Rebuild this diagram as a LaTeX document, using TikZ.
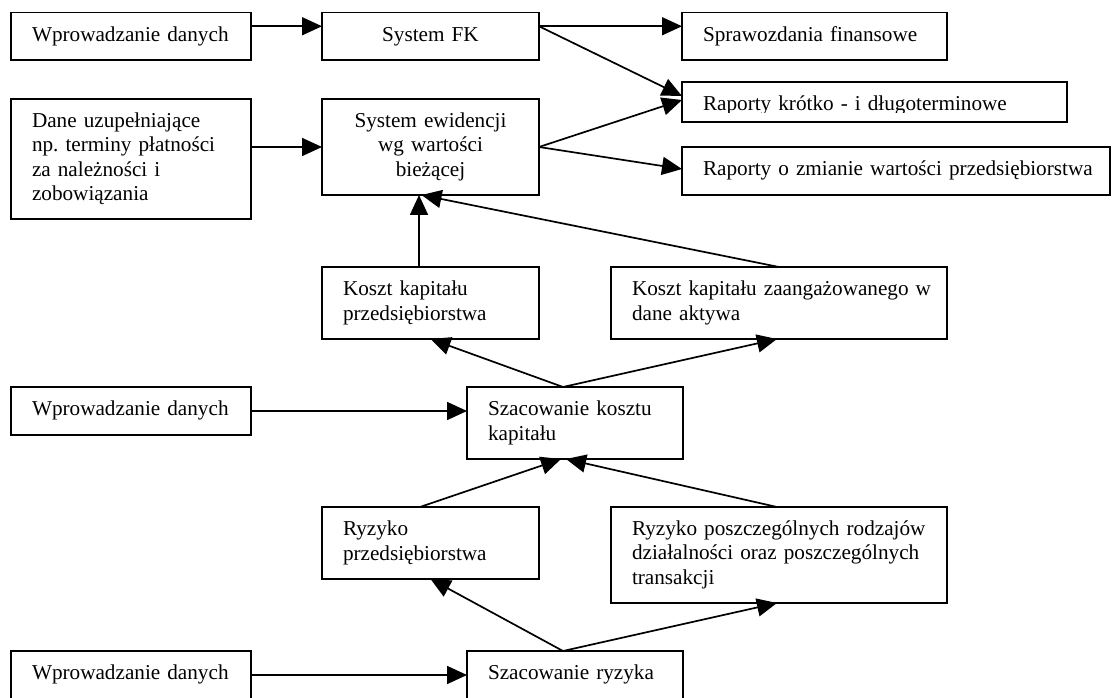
\documentclass[tikz,border=0pt]{standalone}
\usepackage{fontspec}
\setmainfont{Liberation Serif}
\usetikzlibrary{arrows.meta,positioning}

\tikzset{
  every node/.style={font=\fontsize{21.2}{24.5}\selectfont,
    execute at begin node=\strut, execute at end node=\strut},
  box/.code 2 args={\pgfmathsetmacro\boxtw{#1-42}%
    \tikzset{draw, line width=1.8pt, inner xsep=0pt, inner ysep=0pt, outer sep=0pt,
      minimum width=#1pt, minimum height=#2pt, text width/.expanded=\boxtw pt, align=left}},
  link/.style={line width=1.7pt, -{Triangle[length=20pt,width=18pt]}},
}
\frenchspacing
\hyphenpenalty=10000
\exhyphenpenalty=10000

\begin{document}
\begin{tikzpicture}[x=1pt,y=-1pt]
        \useasboundingbox (0,0) rectangle (1112,698);
        \clip (0,0) rectangle (1112,698);

        % First column: data entry
        \node[box={240}{47.5}] (wd1) at (131,36.25) {Wprowadzanie danych};
        \node[box={240}{120}] (dane) at (131,159) {Dane uzupełniające\\np. terminy płatności\\za należności i\\zobowiązania};
        \node[box={240}{48}] (wd2) at (131,411) {Wprowadzanie danych};
        \node[box={240}{48}] (wd3) at (131,675) {Wprowadzanie danych};

        % Systems and costs
        \node[box={217}{47.5}, align=center] (fk) at (430.5,36.25) {System FK};
        \node[box={217}{96}, align=center] (sew) at (430.5,147) {System ewidencji\\wg wartości\\bieżącej};
        \node[box={217}{72}] (kkp) at (430.5,303) {Koszt kapitału\\przedsiębiorstwa};
        \node[box={336}{72}] (kkz) at (779,303) {Koszt~kapitału~zaangażowanego~w\\dane aktywa};
        \node[box={216}{72}] (szk) at (575,423) {Szacowanie kosztu\\kapitału};
        \node[box={217}{72}] (rp) at (430.5,543) {Ryzyko\\przedsiębiorstwa};
        \node[box={336}{96}] (rpr) at (779,555) {Ryzyko~poszczególnych~rodzajów\\działalności~oraz~poszczególnych\\transakcji};
        \node[box={216}{48}] (szr) at (575,675) {Szacowanie ryzyka};

        % Reports
        \node[box={265}{47.5}] (spr) at (814.5,36.25) {Sprawozdania~finansowe};
        \begin{scope}
          \clip (660,70) rectangle (1090,112.5);
          \node[box={385}{40}, text height=21pt, text depth=3pt] (rkd) at (874.5,102) {Raporty~krótko~-~i~długoterminowe};
        \end{scope}
        \draw[line width=1.8pt] (rkd.north west) rectangle (rkd.south east);
        \node[box={428}{48}] (rzw) at (896,171) {Raporty~o~zmianie~wartości~przedsiębiorstwa};

        % Connectors
        \draw[link] ([yshift=10pt]wd1.east) -- ([yshift=10pt]fk.west);
        \draw[link] ([yshift=10pt]fk.east) -- ([yshift=10pt]spr.west);
        \draw[link] ([yshift=10pt]fk.east) -- ([yshift=6pt]rkd.west);
        \draw[link] (dane.east |- sew.west) -- (sew.west);
        \draw[link] (sew.east) -- ([yshift=2pt]rkd.west);
        \draw[link] (sew.east) -- ([yshift=2pt]rzw.west);
        \draw[link] ([xshift=-11.5pt]kkp.north) -- ([xshift=-11.5pt]sew.south);
        \draw[link] (kkz.north) -- ([xshift=-9pt]sew.south);
        \draw[link] ([xshift=-12pt]szk.north) -- (kkp.south);
        \draw[link] ([xshift=-12pt]szk.north) -- ([xshift=-2pt]kkz.south);
        \draw[link] (wd2.east) -- (wd2.east -| szk.west);
        \draw[link] ([xshift=-10.5pt]rp.north) -- ([xshift=-14pt]szk.south);
        \draw[link] ([xshift=-2pt]rpr.north) -- ([xshift=-9pt]szk.south);
        \draw[link] (wd3.east) -- (wd3.east -| szr.west);
        \draw[link] ([xshift=-12pt]szr.north) -- (rp.south);
        \draw[link] ([xshift=-12pt]szr.north) -- ([xshift=-2pt]rpr.south);

        \end{tikzpicture}
\end{document}
